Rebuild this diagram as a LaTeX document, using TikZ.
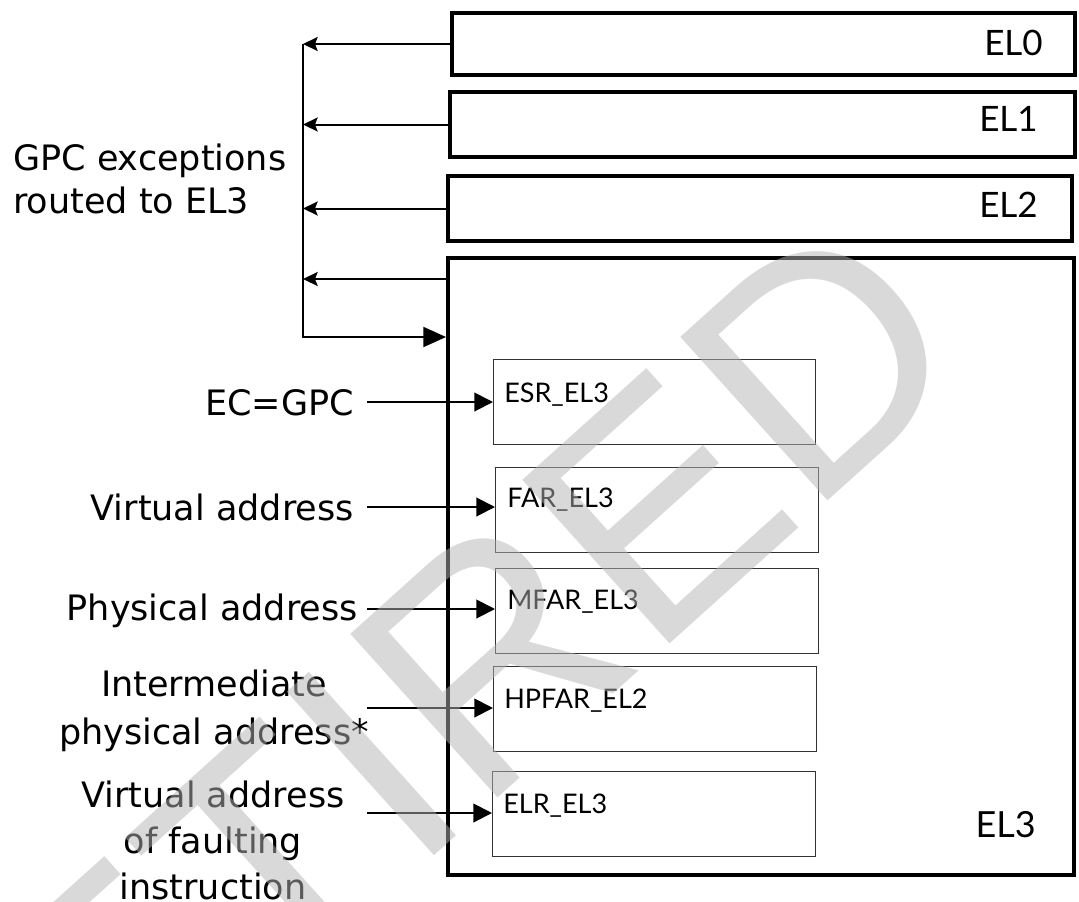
\documentclass[tikz,border=0pt]{standalone}
\usepackage{fontspec}
\usetikzlibrary{arrows.meta}
\newfontfamily\dvfont{DejaVu Sans}
\newfontfamily\latofont{Lato}
\newfontfamily\wmfont{Liberation Sans}
\definecolor{wmgray}{RGB}{180,180,180}
\definecolor{regline}{RGB}{50,50,50}
\begin{document}
\begin{tikzpicture}[x=0.75pt,y=-0.75pt,
  elbox/.style={draw, line width=3pt, anchor=north west, inner sep=0pt},
  regbox/.style={draw=regline, line width=1pt, anchor=north west, minimum height=63.75pt, inner sep=0pt},
  regtext/.style={font=\latofont\fontsize{20.25}{24}\selectfont, anchor=base west, inner sep=0pt},
  eltext/.style={font=\latofont\fontsize{26.25}{30}\selectfont, anchor=base east, inner sep=0pt},
  lbl/.style={font=\dvfont\fontsize{26.25}{32.25}\selectfont, inner sep=0pt},
  back/.style={line width=1.5pt, -{Stealth[length=11pt,width=10.5pt,inset=2pt]}},
  into/.style={line width=1.5pt, -{Triangle[length=17pt,width=15pt]}},
  regarrow/.style={line width=1.5pt, -{Triangle[length=14pt,width=14pt]}},
  wm/.style={font=\wmfont\fontsize{240}{240}\selectfont, text=wmgray, text opacity=0.5, rotate=42, inner sep=0pt}
]
\useasboundingbox (0,0) rectangle (1079,901);
\clip (0,0) rectangle (1079,901);

% exception level boxes
\node[elbox, minimum width=467.25pt, minimum height=46.5pt] (EL0) at (450,11) {};
\node[eltext] (EL0t) at (1043,55) {EL0};
\node[elbox, minimum width=468.75pt, minimum height=48.75pt] (EL1) at (448,90) {};
\node[eltext] (EL1t) at (1038,131) {EL1};
\node[elbox, minimum width=468pt, minimum height=48.75pt] (EL2) at (446,174) {};
\node[eltext] (EL2t) at (1038,217) {EL2};
\node[elbox, minimum width=469.5pt, minimum height=462.75pt] (EL3) at (446,256) {};
\node[eltext, font=\latofont\fontsize{27}{30}\selectfont] (EL3t) at (1036,837) {EL3};

% routing bus
\coordinate (bus) at (303,0);
\coordinate (y3) at (0,279);
\coordinate (y4) at (0,337);
\draw[into] (bus |- EL0.west) -- (bus |- y4) -- (EL3.west |- y4);
\draw[back] (EL0.west) -- (bus |- EL0.west);
\draw[back] (EL1.west) -- (bus |- EL1.west);
\draw[back] (EL2.west) -- (bus |- EL2.west);
\draw[back] (EL3.west |- y3) -- (bus |- y3);
\node[lbl, align=left, anchor=north west, font=\dvfont\fontsize{26.25}{32.25}\selectfont] (gpc) at (13,144) {GPC exceptions\\routed to EL3};

% registers
\node[regbox, minimum width=241.5pt] (ESR) at (493,359) {};
\node[regtext] (ESRt) at (504,402) {ESR\_EL3};
\node[regbox, minimum width=242.25pt] (FAR) at (495,467) {};
\node[regtext] (FARt) at (507,507) {FAR\_EL3};
\node[regbox, minimum width=242.25pt] (MFAR) at (495,568) {};
\node[regtext] (MFARt) at (507,609) {MFAR\_EL3};
\node[regbox, minimum width=242.25pt] (HPFAR) at (493,666) {};
\node[regtext] (HPFARt) at (504,708) {HPFAR\_EL2};
\node[regbox, minimum width=242.25pt] (ELR) at (492,771) {};
\node[regtext] (ELRt) at (503,813) {ELR\_EL3};

% input labels
\node[lbl, anchor=base east] (ec) at (354,415) {EC=GPC};
\node[lbl, anchor=base east] (va) at (354,520) {Virtual address};
\node[lbl, anchor=base east] (pa) at (358,620) {Physical address};
\node[lbl, align=center, anchor=north, font=\dvfont\fontsize{26.25}{36}\selectfont] (ipa) at (214,670) {Intermediate\\physical address*};
\node[lbl, align=center, anchor=north, font=\dvfont\fontsize{26.25}{34.5}\selectfont] (fva) at (213,781) {Virtual address\\of faulting\\instruction};

\coordinate (s1) at (367,402);
\coordinate (s2) at (367,507);
\coordinate (s3) at (367,609);
\coordinate (s4) at (367,708);
\coordinate (s5) at (367,813);
\draw[regarrow] (s1) -- (ESR.west |- s1);
\draw[regarrow] (s2) -- (FAR.west |- s2);
\draw[regarrow] (s3) -- (MFAR.west |- s3);
\draw[regarrow] (s4) -- (HPFAR.west |- s4);
\draw[regarrow] (s5) -- (ELR.west |- s5);

% watermark
\node[wm] (wmark) at (385,752) {RETIRED};
\end{tikzpicture}
\end{document}
